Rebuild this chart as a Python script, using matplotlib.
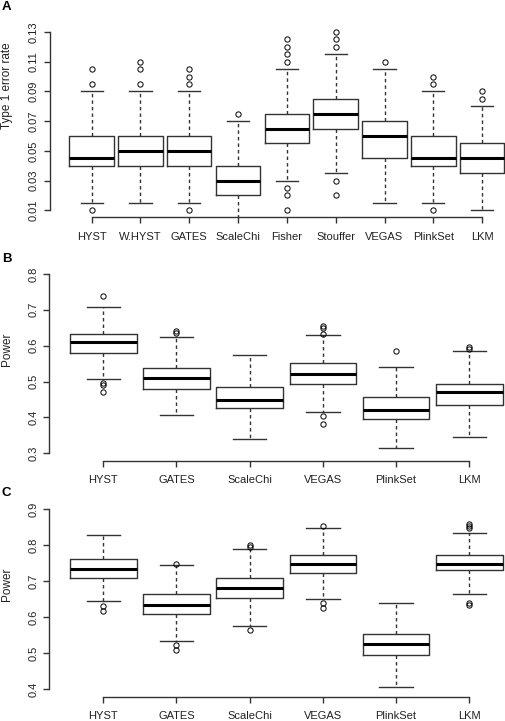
import matplotlib
matplotlib.use('Agg')
import matplotlib.pyplot as plt

plt.rcParams['font.family'] = ['Liberation Sans', 'DejaVu Sans']

W, H = 506, 721

# panel A: type 1 error rate
a_names = ['HYST', 'W.HYST', 'GATES', 'ScaleChi', 'Fisher', 'Stouffer', 'VEGAS', 'PlinkSet', 'LKM']
a_whislo = [0.015, 0.015, 0.015, 0.0, 0.03, 0.035, 0.015, 0.015, 0.01]
a_q1 = [0.04, 0.04, 0.04, 0.02, 0.055, 0.065, 0.045, 0.04, 0.035]
a_med = [0.045, 0.05, 0.05, 0.03, 0.065, 0.075, 0.06, 0.045, 0.045]
a_q3 = [0.06, 0.06, 0.06, 0.04, 0.075, 0.085, 0.07, 0.06, 0.055]
a_whishi = [0.09, 0.09, 0.09, 0.07, 0.105, 0.115, 0.105, 0.09, 0.08]
a_fliers = [[0.105, 0.095, 0.01], [0.11, 0.105, 0.095], [0.105, 0.1, 0.095, 0.01], [0.075],
            [0.125, 0.12, 0.115, 0.11, 0.025, 0.02, 0.01], [0.13, 0.125, 0.12, 0.03, 0.02],
            [0.11], [0.1, 0.095, 0.01], [0.09, 0.085]]

# panel B: power
b_names = ['HYST', 'GATES', 'ScaleChi', 'VEGAS', 'PlinkSet', 'LKM']
b_whislo = [0.506, 0.406, 0.340, 0.416, 0.315, 0.345]
b_q1 = [0.580, 0.479, 0.426, 0.494, 0.396, 0.436]
b_med = [0.610, 0.510, 0.450, 0.520, 0.420, 0.470]
b_q3 = [0.634, 0.539, 0.485, 0.551, 0.456, 0.494]
b_whishi = [0.709, 0.625, 0.574, 0.631, 0.540, 0.584]
b_fliers = [[0.739, 0.495, 0.490, 0.470], [0.640, 0.636], [],
            [0.656, 0.649, 0.634, 0.405, 0.381], [0.584], [0.596, 0.591]]

# panel C: power
c_names = ['HYST', 'GATES', 'ScaleChi', 'VEGAS', 'PlinkSet', 'LKM']
c_whislo = [0.644, 0.535, 0.576, 0.650, 0.406, 0.666]
c_q1 = [0.709, 0.609, 0.654, 0.724, 0.496, 0.731]
c_med = [0.734, 0.635, 0.681, 0.749, 0.526, 0.749]
c_q3 = [0.761, 0.665, 0.709, 0.774, 0.555, 0.774]
c_whishi = [0.829, 0.744, 0.789, 0.849, 0.639, 0.834]
c_fliers = [[0.631, 0.617], [0.748, 0.522, 0.510], [0.800, 0.794, 0.565],
            [0.854, 0.641, 0.627], [], [0.858, 0.853, 0.847, 0.639, 0.634]]

EDGE = '#333333'

fig = plt.figure(figsize=(W / 100, H / 100), dpi=100)


def panel(box, names, whislo, q1, med, q3, whishi, fliers, ylo, yhi, yticks, ylab, lab_y, letter, letter_y):
    # box = (left, top, right, bottom) in pixels from the top-left corner
    l, t, r, b = box
    ax = fig.add_axes([l / W, 1 - b / H, (r - l) / W, (b - t) / H])
    stats = []
    for i in range(len(names)):
        stats.append(dict(whislo=whislo[i], q1=q1[i], med=med[i], q3=q3[i],
                          whishi=whishi[i], fliers=fliers[i]))
    n = len(names)
    ax.bxp(stats, positions=range(1, n + 1), widths=0.91, showfliers=True,
           boxprops=dict(color=EDGE, linewidth=1.0),
           medianprops=dict(color='black', linewidth=2.2, solid_capstyle='butt'),
           whiskerprops=dict(color=EDGE, linewidth=1.0, linestyle=(0, (2.5, 2.2))),
           capprops=dict(color=EDGE, linewidth=1.0),
           capwidths=0.455,
           flierprops=dict(marker='o', markersize=3.8, markerfacecolor='none',
                           markeredgecolor='black', markeredgewidth=0.7, linestyle='none'))
    span = n
    ax.set_xlim(0.5 - 0.04 * span, n + 0.5 + 0.04 * span)
    pad = (yhi - ylo) * 0.04
    ax.set_ylim(ylo - pad, yhi + pad)
    ax.set_yticks(yticks)
    ax.set_yticklabels([('%.2f' % v) if v < 0.2 else ('%.1f' % v) for v in yticks], rotation=90, va='center')
    ax.set_xticks(range(1, n + 1))
    ax.set_xticklabels(names)
    for s in ['top', 'right']:
        ax.spines[s].set_visible(False)
    ax.spines['left'].set_bounds(yticks[0], yticks[-1])
    ax.spines['bottom'].set_bounds(1, n)
    for s in ['left', 'bottom']:
        ax.spines[s].set_color(EDGE)
        ax.spines[s].set_linewidth(1.0)
    ax.tick_params(axis='both', length=4.3, width=1.0, color=EDGE, labelsize=8, labelcolor='#222222')
    ax.tick_params(axis='x', pad=6)
    ax.tick_params(axis='y', pad=3.5)
    ax.patch.set_visible(False)
    fig.text(7 / W, 1 - lab_y / H, ylab, rotation=90, ha='center', va='center', fontsize=8.5, color='#222222')
    fig.text(2 / W, 1 - letter_y / H, letter, ha='left', va='center', fontsize=9.5, fontweight='bold')
    return ax


panel((49.7, 24.9, 524.1, 217.4), a_names, a_whislo, a_q1, a_med, a_q3, a_whishi, a_fliers,
      0.01, 0.13, [0.01, 0.03, 0.05, 0.07, 0.09, 0.11, 0.13], 'Type 1 error rate', 86, 'A', 7)
panel((49.1, 266.8, 523.5, 460.5), b_names, b_whislo, b_q1, b_med, b_q3, b_whishi, b_fliers,
      0.3, 0.8, [0.3, 0.4, 0.5, 0.6, 0.7, 0.8], 'Power', 349, 'B', 258.5)
panel((49.1, 502.1, 523.5, 696.5), c_names, c_whislo, c_q1, c_med, c_q3, c_whishi, c_fliers,
      0.4, 0.9, [0.4, 0.5, 0.6, 0.7, 0.8, 0.9], 'Power', 584, 'C', 493.5)

fig.savefig('out.png', dpi=100)
